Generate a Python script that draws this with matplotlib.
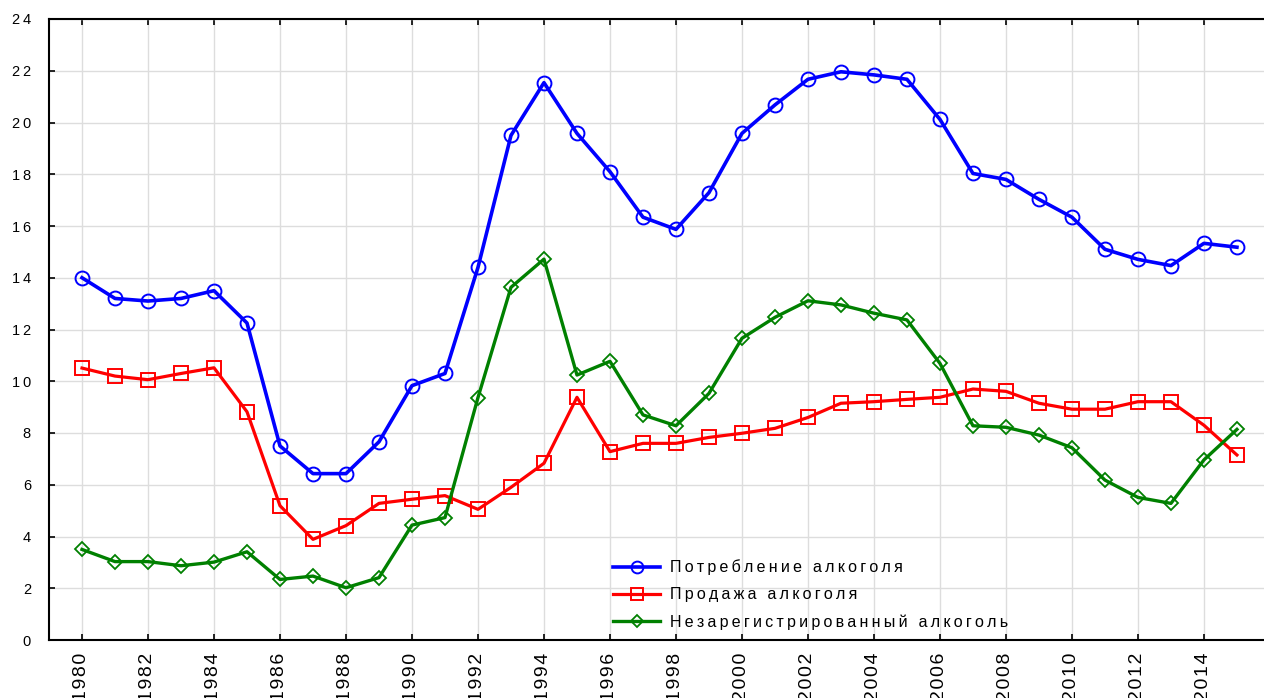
import numpy as np
import matplotlib.pyplot as plt

plt.rcParams['font.family'] = ['Liberation Sans', 'DejaVu Sans']

years = list(range(1980, 2016))

# Потребление алкоголя
consumption = [14.0, 13.2, 13.1, 13.2, 13.5, 12.25, 7.5, 6.43, 6.43, 7.66,
               9.83, 10.3, 14.4, 19.5, 21.54, 19.58, 18.1, 16.34, 15.87, 17.29,
               19.58, 20.68, 21.67, 21.96, 21.84, 21.67, 20.12, 18.03, 17.8, 17.03,
               16.34, 15.1, 14.71, 14.47, 15.33, 15.18]
# Продажа алкоголя
sales = [10.51, 10.2, 10.06, 10.3, 10.52, 8.82, 5.19, 3.89, 4.42, 5.28,
         5.44, 5.58, 5.05, 5.9, 6.83, 9.38, 7.28, 7.6, 7.6, 7.83,
         7.99, 8.18, 8.6, 9.15, 9.21, 9.3, 9.38, 9.7, 9.61, 9.15,
         8.92, 8.92, 9.21, 9.21, 8.3, 7.15]
# Незарегистрированный алкоголь
unregistered = [3.5, 3.03, 3.03, 2.87, 3.01, 3.41, 2.34, 2.47, 2.02, 2.41,
                4.44, 4.73, 9.37, 13.63, 14.72, 10.24, 10.77, 8.7, 8.28, 9.53,
                11.66, 12.47, 13.11, 12.95, 12.63, 12.37, 10.69, 8.28, 8.22, 7.92,
                7.43, 6.18, 5.51, 5.28, 6.96, 8.14]

labels = ['Потребление алкоголя', 'Продажа алкоголя', 'Незарегистрированный алкоголь']
xticks = list(range(1980, 2016, 2))
yticks = list(range(0, 25, 2))


def spaced(s, sp='\u2009'):
    # wide letter spacing like the original
    return sp.join(s)


fig = plt.figure(figsize=(12.64, 6.98), dpi=100)
ax = fig.add_axes([49/1264, 58/698, 1 - 49/1264, (640-19)/698])

ax.plot(years, consumption, color='#0000ff', lw=2.6, marker='o', ms=10,
        mfc='none', mec='#0000ff', mew=1.4, label=spaced(labels[0]))
ax.plot(years, sales, color='#ff0000', lw=2.3, marker='s', ms=10,
        mfc='none', mec='#ff0000', mew=1.4, label=spaced(labels[1]))
ax.plot(years, unregistered, color='#008000', lw=2.4, marker='D', ms=7.5,
        mfc='none', mec='#008000', mew=1.3, label=spaced(labels[2]))

ax.set_xlim(1979, 2015.82)
ax.set_ylim(0, 24)
ax.set_xticks(xticks)
ax.set_xticklabels([spaced(str(y), '\u200a') for y in xticks], rotation=90, fontsize=14)
ax.set_yticks(yticks)
ax.set_yticklabels([spaced(str(v)) for v in yticks], fontsize=10.5)
ax.tick_params(axis='x', direction='in', length=4, width=1.2, top=True, pad=9)
ax.tick_params(axis='y', direction='in', length=4, width=1.2, pad=13)
for lbl in ax.get_xticklabels():
    lbl.set_verticalalignment('top')

ax.grid(True, color='#dddddd', lw=1.0)
ax.set_axisbelow(True)
ax.spines['right'].set_visible(False)
for s in ['left', 'bottom', 'top']:
    ax.spines[s].set_linewidth(1.5)

ax.legend(loc='upper left', bbox_to_anchor=(599/1264, 1 - 545/698),
          bbox_transform=fig.transFigure, frameon=False, fontsize=11.5,
          handlelength=2.9, handletextpad=0.65, labelspacing=0.75,
          markerscale=0.85)

fig.savefig('out.png', dpi=100)
